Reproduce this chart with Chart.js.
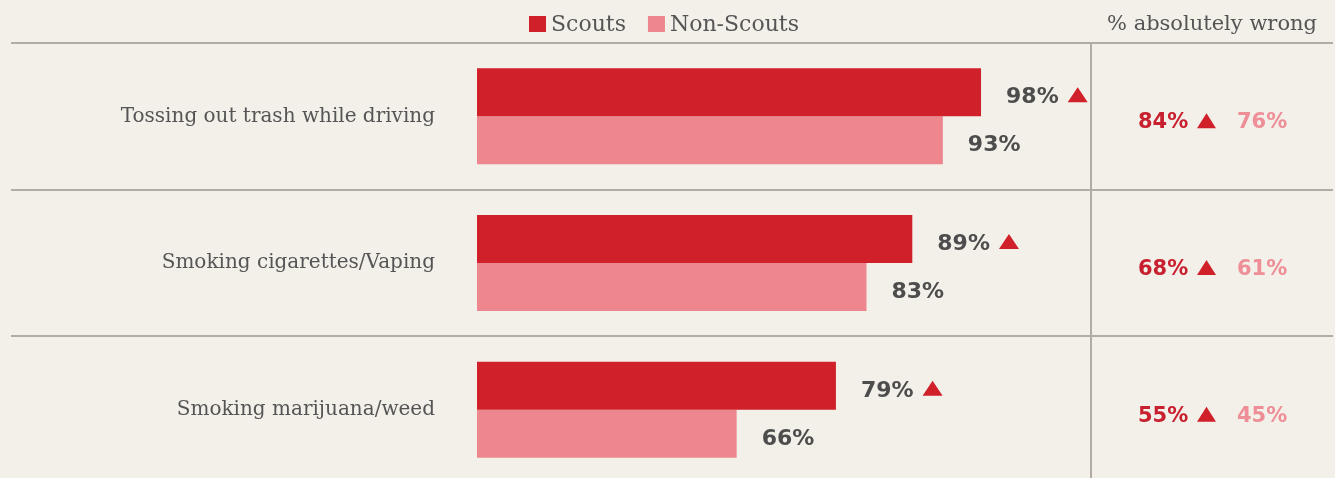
<!DOCTYPE html>
<html>
<head>
<meta charset="utf-8">
<script src="https://cdn.jsdelivr.net/npm/chart.js@4.4.1/dist/chart.umd.min.js"></script>
<style>
  html, body { margin: 0; padding: 0; background: #f3efe9; overflow: hidden; }
  #wrap { width: 1335px; height: 478px; overflow: hidden; }
  canvas { display: block; }
</style>
</head>
<body>
<div id="wrap"><canvas id="c" width="1335" height="490"></canvas></div>
<script>
// ---- data ----
const categories = ['Tossing out trash while driving', 'Smoking cigarettes/Vaping', 'Smoking marijuana/weed'];
const seriesNames = ['Scouts', 'Non-Scouts'];
const scoutsValues = [98, 89, 79];
const nonScoutsValues = [93, 83, 66];
const scoutsSignificant = [true, true, true];
const columnTitle = '% absolutely wrong';
const absWrongScouts = [84, 68, 55];
const absWrongNonScouts = [76, 61, 45];
const absWrongSignificant = [true, true, true];

// ---- style ----
const RED = '#d0212a';
const PINK = '#ee878d';
const TEXT = '#555555';
const LABEL = '#4d4d4d';
const LINE = '#b1aca4';
const SERIF = '"DejaVu Serif", "Liberation Serif", serif';
const SANS = '"DejaVu Sans", sans-serif';

function triangle(ctx, x, baseY, w, h, color) {
  ctx.save();
  ctx.fillStyle = color;
  ctx.beginPath();
  ctx.moveTo(x, baseY);
  ctx.lineTo(x + w, baseY);
  ctx.lineTo(x + w / 2, baseY - h);
  ctx.closePath();
  ctx.fill();
  ctx.restore();
}

const framePlugin = {
  id: 'frame',
  beforeDatasetsDraw(chart) {
    const ctx = chart.ctx;
    const y = chart.scales.y;
    const area = chart.chartArea;
    const step = y.getPixelForValue(1) - y.getPixelForValue(0);
    ctx.save();
    ctx.strokeStyle = LINE;
    ctx.lineWidth = 2;
    for (let i = 0; i < categories.length; i++) {
      const yy = Math.round(y.getPixelForValue(i) - step / 2);
      ctx.beginPath();
      ctx.moveTo(11, yy);
      ctx.lineTo(1333, yy);
      ctx.stroke();
    }
    ctx.beginPath();
    ctx.moveTo(area.right, area.top);
    ctx.lineTo(area.right, chart.height);
    ctx.stroke();
    ctx.restore();
  }
};

const labelsPlugin = {
  id: 'labels',
  afterDatasetsDraw(chart) {
    const ctx = chart.ctx;
    ctx.save();
    ctx.font = 'bold 22px ' + SANS;
    ctx.fillStyle = LABEL;
    ctx.textBaseline = 'alphabetic';
    ctx.textAlign = 'left';
    chart.data.datasets.forEach((ds, di) => {
      const meta = chart.getDatasetMeta(di);
      meta.data.forEach((el, i) => {
        const txt = ds.data[i] + '%';
        const x = el.x + 25;
        const base = el.y + 11;
        ctx.fillText(txt, x, base);
        if (di === 0 && scoutsSignificant[i]) {
          const w = ctx.measureText(txt).width;
          triangle(ctx, x + w + 9, base - 1, 20, 15, RED);
        }
      });
    });
    ctx.restore();
  }
};

const sidePlugin = {
  id: 'side',
  afterDraw(chart) {
    const ctx = chart.ctx;
    const y = chart.scales.y;
    ctx.save();
    // legend
    ctx.font = '22px ' + SERIF;
    ctx.textBaseline = 'alphabetic';
    const colors = [RED, PINK];
    const box = 17, gapBox = 5, gapItem = 22;
    let total = 0;
    const widths = seriesNames.map(n => ctx.measureText(n).width);
    widths.forEach((w, i) => { total += box + gapBox + w + (i < widths.length - 1 ? gapItem : 0); });
    let lx = 664 - total / 2;
    seriesNames.forEach((n, i) => {
      ctx.fillStyle = colors[i];
      ctx.fillRect(lx, 16, box, 16);
      ctx.fillStyle = TEXT;
      ctx.textAlign = 'left';
      ctx.fillText(n, lx + box + gapBox, 31);
      lx += box + gapBox + widths[i] + gapItem;
    });
    // column title
    ctx.font = '21px ' + SERIF;
    ctx.textAlign = 'center';
    ctx.fillStyle = TEXT;
    ctx.fillText(columnTitle, 1212, 30);
    // column values
    ctx.font = 'bold 21px ' + SANS;
    ctx.textAlign = 'left';
    categories.forEach((c, i) => {
      const base = y.getPixelForValue(i) + 12;
      ctx.fillStyle = '#c8202f';
      const t1 = absWrongScouts[i] + '%';
      ctx.fillText(t1, 1138, base);
      if (absWrongSignificant[i]) triangle(ctx, 1197, base, 19, 15, RED);
      ctx.fillStyle = '#ee8f98';
      ctx.fillText(absWrongNonScouts[i] + '%', 1237, base);
    });
    ctx.restore();
  }
};

new Chart(document.getElementById('c'), {
  type: 'bar',
  data: {
    labels: categories,
    datasets: [
      { label: seriesNames[0], data: scoutsValues, backgroundColor: RED },
      { label: seriesNames[1], data: nonScoutsValues, backgroundColor: PINK }
    ]
  },
  options: {
    indexAxis: 'y',
    responsive: false,
    animation: false,
    devicePixelRatio: 1,
    layout: { padding: { top: 43, right: 244, bottom: 7, left: 0 } },
    datasets: { bar: { categoryPercentage: 0.655, barPercentage: 1 } },
    plugins: { legend: { display: false }, tooltip: { enabled: false } },
    scales: {
      x: { display: false, min: 32, max: 112.4 },
      y: {
        grid: { display: false, drawTicks: false },
        border: { display: false },
        ticks: { padding: 42, color: TEXT, font: { family: SERIF, size: 20 } },
        afterFit(s) { s.width = 477; s.paddingTop = 0; s.paddingBottom = 0; }
      }
    }
  },
  plugins: [framePlugin, labelsPlugin, sidePlugin]
});
</script>
</body>
</html>
